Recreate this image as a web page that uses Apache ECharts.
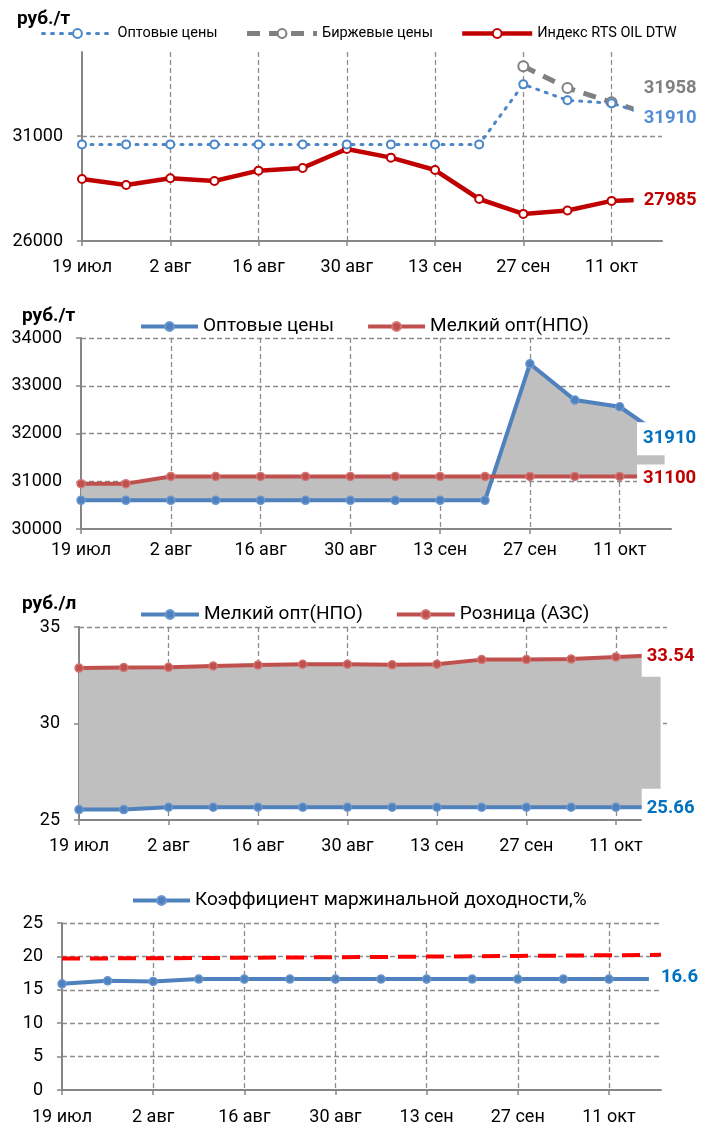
<!DOCTYPE html>
<html><head><meta charset="utf-8">
<script src="https://cdn.jsdelivr.net/npm/echarts@6/dist/echarts.min.js"></script>
<style>html,body{margin:0;padding:0;background:#fff}#c{width:713px;height:1128px}</style>
</head><body><div id="c"></div>
<script>
// ---- data ----
const dates = ['2021-07-19','2021-07-26','2021-08-02','2021-08-09','2021-08-16','2021-08-23','2021-08-30',
  '2021-09-06','2021-09-13','2021-09-20','2021-09-27','2021-10-04','2021-10-11','2021-10-18'];
const refDates = ['2021-07-19','2021-07-26','2021-08-02','2021-08-09','2021-08-16','2021-08-23','2021-08-30',
  '2021-09-06','2021-09-13','2021-09-20','2021-09-27','2021-10-04','2021-10-11','2021-10-19'];
const tickLabels = ['19 июл','2 авг','16 авг','30 авг','13 сен','27 сен','11 окт'];

// chart 1 (руб./т)
const optPrices   = [30600,30600,30600,30600,30600,30600,30600,30600,30600,30600,33460,32700,32560,31910];
const birzhPrices = [null,null,null,null,null,null,null,null,null,null,34320,33290,32610,31958];
const rtsIndex    = [28950,28670,28990,28860,29350,29480,30380,29970,29380,28000,27290,27450,27910,27985];
// chart 2 (руб./т)
const melkOptT    = [30950,30950,31100,31100,31100,31100,31100,31100,31100,31100,31100,31100,31100,31100];
// chart 3 (руб./л)
const melkOptL    = [25.54,25.54,25.66,25.66,25.66,25.66,25.66,25.66,25.66,25.66,25.66,25.66,25.66,25.66];
const retailL     = [32.87,32.90,32.91,32.98,33.03,33.07,33.07,33.04,33.07,33.31,33.31,33.34,33.45,33.54];
// chart 4 (%)
const marginCoef  = [15.9,16.35,16.25,16.6,16.6,16.6,16.6,16.6,16.6,16.6,16.6,16.6,16.6,16.6];
const marginRef   = [19.68,19.70,19.72,19.76,19.80,19.84,19.88,19.92,19.97,20.02,20.07,20.12,20.17,20.23];

const names = {
  opt1:'Оптовые цены', birzh:'Биржевые цены', rts:'Индекс RTS OIL DTW',
  opt2:'Оптовые цены', melk2:'Мелкий опт(НПО)',
  melk3:'Мелкий опт(НПО)', retail:'Розница (АЗС)',
  coef:'Коэффициент маржинальной доходности,%'
};

// ---- helpers ----
const FONT = 'Roboto';
const d0 = Date.parse(dates[0]);
const dx = d => Math.round((Date.parse(d) - d0) / 864e5);
const pts = (xs, ys) => xs.map((d, i) => [dx(d), ys[i]]).filter(p => p[1] != null);
const withLast = (data, label) => data.map((p, i) => i === data.length - 1 ? {value: p, label: Object.assign({
  show: true, position: 'inside', fontFamily: FONT, fontWeight: 'bold', fontSize: 18.5,
  backgroundColor: '#fff'}, label)} : p);
const tickVals = tickLabels.map((_, i) => i * 14);
const GRID_C = '#8c8c8c', AXIS_C = '#868686';

function mkX(gi, margin) {
  return {type:'value', gridIndex: gi, min: 0, max: 92, interval: 14,
    axisLine:{show:true, onZero:false, lineStyle:{color:AXIS_C, width:2}},
    axisTick:{show:true, length:5, customValues: tickVals, lineStyle:{color:AXIS_C, width:1.5}},
    axisLabel:{customValues: tickVals, margin, fontSize:18, color:'#000', fontFamily:FONT,
      formatter: v => tickLabels[Math.round(v / 14)] || ''},
    splitLine:{show:true, showMinLine:false, lineStyle:{color:GRID_C, type:[5,3], width:1.3}}};
}
function mkY(gi, min, max, interval, opts) {
  const y = {type:'value', gridIndex: gi, min, max, interval,
    axisLine:{show:true, onZero:false, lineStyle:{color:AXIS_C, width:2}},
    axisTick:{show:true, length:5, lineStyle:{color:AXIS_C, width:1.5}},
    axisLabel:{margin:19, fontSize:18, color:'#000', fontFamily:FONT, formatter: v => String(v)},
    splitLine:{show:true, showMinLine:false, lineStyle:{color:GRID_C, type:[5,3], width:1.3}}};
  if (opts) { Object.assign(y.axisLabel, opts.axisLabel || {}); Object.assign(y.axisTick, opts.axisTick || {}); Object.assign(y.splitLine, opts.splitLine || {}); }
  return y;
}
const lineSeries = (id, gi, data, color, width, extra) => Object.assign({
  type:'line', name:id, xAxisIndex:gi, yAxisIndex:gi, data, z: 5,
  symbol:'circle', symbolSize:8, showAllSymbol:true,
  lineStyle:{color, width}, itemStyle:{color, borderColor: color, borderWidth:1.5},
  emphasis:{disabled:true}, animation:false}, extra || {});

// grey fill between two series, drawn as one polygon through the axes' scales
const fillSeries = (gi, a, b, anchor) => ({type:'custom', xAxisIndex:gi, yAxisIndex:gi, silent:true, z:1, animation:false,
  data:[[0, anchor]], clip:true,
  renderItem: (params, api) => {
    const top = pts(dates, a).map(p => api.coord(p));
    const bot = pts(dates, b).map(p => api.coord(p)).reverse();
    return {type:'polygon', shape:{points: top.concat(bot)}, style:{fill:'#BFBFBF'}};
  }});

const legendBase = (data, left, top, itemWidth, fontSize, itemGap) => ({
  data, left, top, itemWidth, itemHeight: 11, itemGap, selectedMode:false,
  textStyle:{fontSize, color:'#000', fontFamily:FONT}, formatter: n => names[n]});

const option = {
  animation:false,
  title:[
    {text:'руб./т', left:12, top:5, textStyle:{fontSize:19, fontWeight:'bold', color:'#000', fontFamily:FONT}},
    {text:'руб./т', left:17, top:302, textStyle:{fontSize:19, fontWeight:'bold', color:'#000', fontFamily:FONT}},
    {text:'руб./л', left:17, top:590, textStyle:{fontSize:19, fontWeight:'bold', color:'#000', fontFamily:FONT}}
  ],
  legend:[
    legendBase([{name:'opt1', lineStyle:{width:3}}, {name:'birzh', lineStyle:{width:5}}, {name:'rts', lineStyle:{width:4.5}}], 36, 21, 70, 14.5, 27),
    legendBase([{name:'opt2', lineStyle:{width:4}}, {name:'melk2', lineStyle:{width:4}}], 134, 312, 57, 19, 32),
    legendBase([{name:'melk3', lineStyle:{width:4}}, {name:'retail', lineStyle:{width:4}}], 134, 600, 58, 19, 32),
    legendBase([{name:'coef', lineStyle:{width:4}}], 126, 886, 57, 19, 30)
  ],
  grid:[
    {left:82, top:52, width:580, height:189},
    {left:81, top:338, width:590, height:191},
    {left:79, top:627, width:588, height:193},
    {left:62, top:923, width:599, height:167}
  ],
  xAxis:[mkX(0,17), mkX(1,12), mkX(2,17), mkX(3,18)],
  yAxis:[
    mkY(0, 26000, 35000, 5000, {axisLabel:{customValues:[26000,31000]}, axisTick:{customValues:[26000,31000]}}),
    mkY(1, 30000, 34000, 1000),
    mkY(2, 25, 35, 5),
    mkY(3, 0, 25, 5)
  ],
  series:[
    // chart 1
    lineSeries('rts', 0, withLast(pts(dates, rtsIndex), {color:'#C00000', offset:[14,1], padding:[3,9,3,10]}), '#C00000', 4.5,
      {symbol:'emptyCircle', symbolSize:8, itemStyle:{color:'#C00000', borderWidth:1.5}}),
    lineSeries('birzh', 0, withLast(pts(dates, birzhPrices), {color:'#7F7F7F', offset:[14,-28], padding:[3,9,3,10]}), '#808080', 5,
      {symbol:'emptyCircle', symbolSize:10, lineStyle:{color:'#808080', width:5, type:[13,9]}, itemStyle:{color:'#808080', borderWidth:2}}),
    lineSeries('opt1', 0, withLast(pts(dates, optPrices), {color:'#558ED5', offset:[14,1], padding:[3,9,3,10]}), '#4A86C8', 3,
      {symbol:'emptyCircle', symbolSize:8, lineStyle:{color:'#4A86C8', width:3, type:[2,7], cap:'round'}, itemStyle:{color:'#4A86C8', borderWidth:2}}),
    // chart 2
    fillSeries(1, optPrices, melkOptT, 31000),
    lineSeries('opt2', 1, withLast(pts(dates, optPrices), {color:'#0070C0', offset:[5,1], padding:[8,6,6,6]}), '#4F81BD', 4,
      {itemStyle:{color:'#4F81BD', borderColor:'#6A97D0', borderWidth:1.5}}),
    lineSeries('melk2', 1, withLast(pts(dates, melkOptT), {color:'#C00000', offset:[5,2], padding:[5,6,4,6]}), '#C0504D', 4,
      {itemStyle:{color:'#C0504D', borderColor:'#D27774', borderWidth:1.5}}),
    // chart 3
    fillSeries(2, retailL, melkOptL, 30),
    lineSeries('melk3', 2, withLast(pts(dates, melkOptL), {color:'#0070C0', offset:[10,1], padding:[14,5,6,5], formatter: p => p.value[1].toFixed(2)}), '#4F81BD', 4,
      {itemStyle:{color:'#4F81BD', borderColor:'#6A97D0', borderWidth:1.5}}),
    lineSeries('retail', 2, withLast(pts(dates, retailL), {color:'#C00000', offset:[10,1], padding:[8,5,14,5], formatter: p => p.value[1].toFixed(2)}), '#C0504D', 4,
      {itemStyle:{color:'#C0504D', borderColor:'#D27774', borderWidth:1.5}}),
    // chart 4
    {type:'line', xAxisIndex:3, yAxisIndex:3, data: pts(refDates, marginRef), symbol:'none', animation:false, silent:true,
      lineStyle:{color:'#FF0000', width:4, type:[18,10]}, z:4},
    lineSeries('coef', 3, withLast(pts(dates, marginCoef), {color:'#0070C0', offset:[25,-2], padding:[3,12,3,12], formatter: p => p.value[1].toFixed(1)}), '#4F81BD', 4,
      {itemStyle:{color:'#4F81BD', borderColor:'#6A97D0', borderWidth:1.5}})
  ]
};
const chart = echarts.init(document.getElementById('c'), null, {renderer:'canvas'});
chart.setOption(option);
</script>
</body></html>
